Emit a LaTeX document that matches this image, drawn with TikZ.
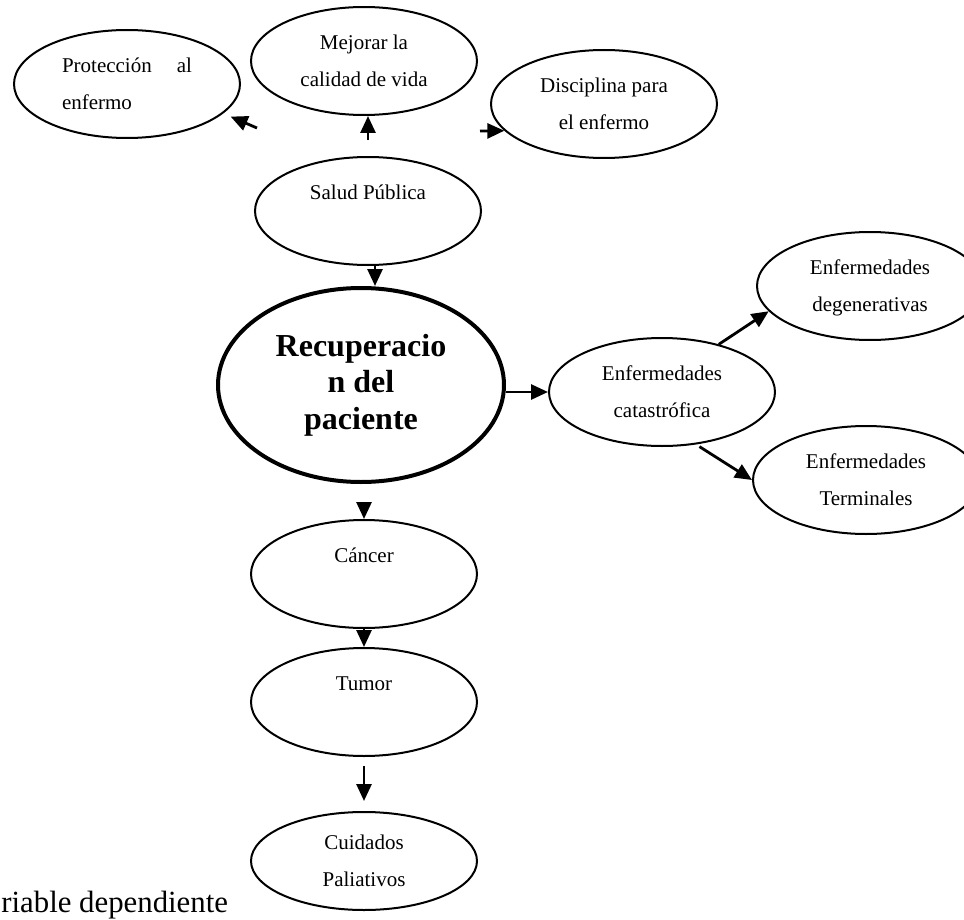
\documentclass[tikz,border=0pt]{standalone}
\usepackage{fontspec}
\setmainfont{Liberation Serif}
\usetikzlibrary{shapes.geometric}
\usetikzlibrary{arrows.meta}

\begin{document}
\begin{tikzpicture}[x=0.5pt,y=-0.5pt,
	ov/.style={draw,ellipse,line width=1pt,inner sep=0pt,minimum width=113pt,minimum height=54pt,align=center,font=\fontsize{10.5}{18.5}\selectfont},
	arr/.style={line width=1.4pt,-{Triangle[length=8.5pt,width=7.5pt]}}]
	\useasboundingbox (0,0) rectangle (964,920);
	\clip (0,0) rectangle (964,920);
	% nodos
	\node[ov,text width=65pt,align=justify] (proteccion) at (127,84) {\strut Protección al enfermo\strut};
	\node[ov] (mejorar) at (364,61) {\strut Mejorar la\\\strut calidad de vida};
	\node[ov] (disciplina) at (604,104) {\strut Disciplina para\\\strut el enfermo};
	\node[ov] (salud) at (368,211) {\strut Salud Pública\\\strut};
	\node[ov,line width=2pt,minimum width=143pt,minimum height=97pt,font=\fontsize{16}{18.2}\selectfont\bfseries] (recup) at (361,385) {Recuperacio\\n del\\paciente};
	\node[ov] (catastrofica) at (662,392) {\strut Enfermedades\\\strut catastrófica};
	\node[ov] (degenerativas) at (870,286) {\strut Enfermedades\\\strut degenerativas};
	\node[ov] (terminales) at (866,480) {\strut Enfermedades\\\strut Terminales};
	\node[ov] (cancer) at (364,574) {\strut Cáncer\\\strut};
	\node[ov] (tumor) at (364,702) {\strut Tumor\\\strut};
	\node[ov,minimum height=49pt,inner ysep=-2pt] (cuidados) at (364,861) {\strut Cuidados\\\strut Paliativos};
	\node[anchor=base west,inner sep=0pt,font=\fontsize{15.4}{17}\selectfont] (varlabel) at (1,912) {riable dependiente};
	% flechas
	\coordinate (t1) at (257,128);
	\coordinate (t2) at (480,131);
	\coordinate (t3) at ([xshift=3.5pt]salud.south);
	\draw[arr,shorten <=8pt] (salud.north) -- (salud.north |- mejorar.south);
	\draw[arr,shorten >=4pt] (t1) -- (proteccion.-17);
	\draw[arr] (t2) -- (disciplina.195);
	\draw[arr] (t3) -- (t3 |- recup.north);
	\draw[arr] (recup.east |- catastrofica.west) -- (catastrofica.west);
	\draw[arr] (catastrofica.40) -- (degenerativas.194);
	\draw[arr,shorten <=2pt] (catastrofica.-57) -- (terminales.west);
	\draw[arr,shorten <=9pt] (cancer.north |- recup.south) -- (cancer.north);
	\draw[arr] (cancer.south) -- (tumor.north);
	\draw[arr,shorten <=4.5pt,shorten >=5pt] (tumor.south) -- (cuidados.north);
\end{tikzpicture}
\end{document}
